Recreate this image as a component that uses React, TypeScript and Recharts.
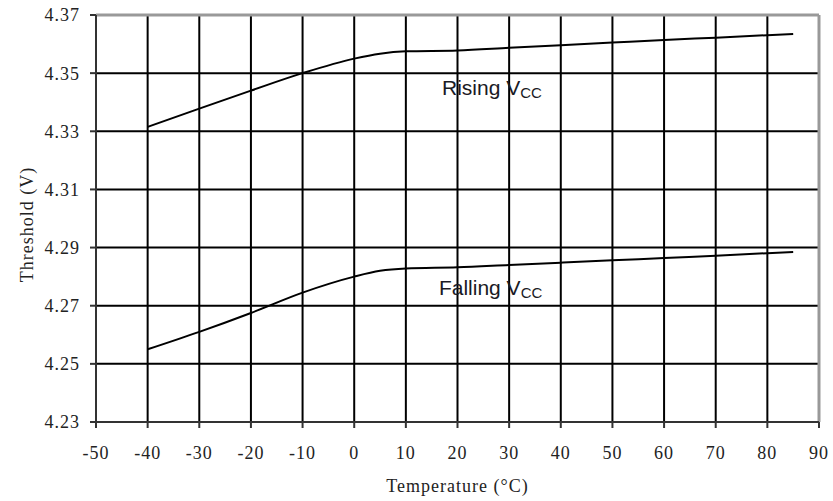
import { LineChart, Line, XAxis, YAxis, CartesianGrid, ReferenceLine, ReferenceDot, Label } from 'recharts';

// temperature points (°C) and threshold readings (V)
const temps = [-40, -30, -20, -10, 0, 5, 10, 20, 30, 40, 50, 60, 70, 85];
const rising = [4.3315, 4.3378, 4.344, 4.35, 4.355, 4.3567, 4.3575, 4.3578, 4.3587, 4.3596, 4.3605, 4.3614, 4.3622, 4.3635];
const falling = [4.255, 4.261, 4.2675, 4.2745, 4.28, 4.282, 4.2828, 4.2832, 4.284, 4.2848, 4.2856, 4.2864, 4.2872, 4.2885];

const xTicks = [-50, -40, -30, -20, -10, 0, 10, 20, 30, 40, 50, 60, 70, 80, 90];
const yTicks = [4.23, 4.25, 4.27, 4.29, 4.31, 4.33, 4.35, 4.37];
const xGrid = [-40, -30, -20, -10, 0, 10, 20, 30, 40, 50, 60, 70, 80];
const yGrid = [4.25, 4.27, 4.29, 4.31, 4.33, 4.35];

const data = temps.map((t, i) => ({ t, rising: rising[i], falling: falling[i] }));

const serif = '"Liberation Serif", "Times New Roman", serif';
const sans = '"Liberation Sans", Arial, sans-serif';

const tickStyle = { fontFamily: serif, fontSize: 18, fill: '#222', letterSpacing: 1 };

// "Rising VCC" style label with a subscript
const curveLabel = (word: string) => (props: any) => {
  const { x, y } = props.viewBox;
  return (
    <text x={x} y={y} fontFamily={sans} fontSize={21} fill="#1a1a24">
      {word} V
      <tspan fontSize={15} dy={3}>CC</tspan>
    </text>
  );
};

const yTitle = (props: any) => {
  const { x, y, height } = props.viewBox;
  const cx = x - 9;
  const cy = y + height / 2 + 6;
  return (
    <text
      x={cx}
      y={cy}
      transform={`rotate(-90 ${cx} ${cy})`}
      textAnchor="middle"
      dominantBaseline="central"
      fontFamily={serif}
      fontSize={18}
      letterSpacing={1}
      fill="#222"
    >
      Threshold (V)
    </text>
  );
};

export default function App() {
  return (
    <div>
      <style>{'body{margin:0}'}</style>
      <LineChart width={833} height={501} data={data} margin={{ top: 15, right: 14, bottom: 49, left: 36 }}>
        <CartesianGrid
          stroke="#000"
          strokeWidth={2}
          verticalValues={xGrid}
          horizontalValues={yGrid}
        />
        <XAxis
          dataKey="t"
          type="number"
          domain={[-50, 90]}
          ticks={xTicks}
          interval={0}
          height={30}
          stroke="#333"
          strokeWidth={2}
          tickSize={6}
          tickMargin={18}
          tick={tickStyle}
        >
          <Label
            value="Temperature (°C)"
            position="insideBottom"
            offset={-40}
            style={{ fontFamily: serif, fontSize: 18, fill: '#222', letterSpacing: 1 }}
          />
        </XAxis>
        <YAxis
          type="number"
          domain={[4.23, 4.37]}
          ticks={yTicks}
          interval={0}
          width={60}
          stroke="#333"
          strokeWidth={2}
          tickSize={6}
          tickMargin={10}
          tick={tickStyle}
          tickFormatter={(v: number) => v.toFixed(2)}
        >
          <Label content={yTitle} />
        </YAxis>
        <ReferenceLine y={4.37} stroke="#999" strokeWidth={3} />
        <ReferenceLine x={90} stroke="#999" strokeWidth={3} />
        <Line type="monotone" dataKey="rising" stroke="#000" strokeWidth={2} dot={false} isAnimationActive={false} />
        <Line type="monotone" dataKey="falling" stroke="#000" strokeWidth={2} dot={false} isAnimationActive={false} />
        <ReferenceDot x={17} y={4.3425} r={0} fill="none" stroke="none" label={curveLabel('Rising')} />
        <ReferenceDot x={16.4} y={4.2737} r={0} fill="none" stroke="none" label={curveLabel('Falling')} />
      </LineChart>
    </div>
  );
}
